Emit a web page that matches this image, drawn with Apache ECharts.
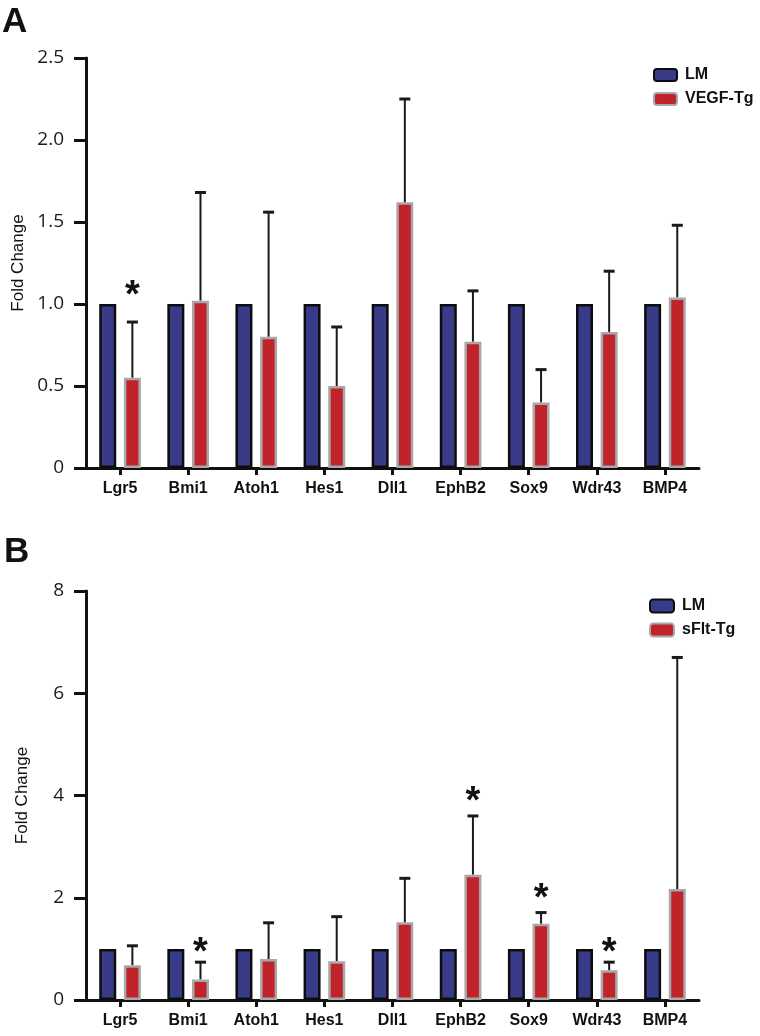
<!DOCTYPE html>
<html>
<head>
<meta charset="utf-8">
<script src="https://cdn.jsdelivr.net/npm/echarts@6/dist/echarts.min.js"></script>
<style>
html,body{margin:0;padding:0;background:#fff;}
#chart{width:760px;height:1036px;}
</style>
</head>
<body>
<div id="chart"></div>
<script>
// ---- data ----
const categories = ['Lgr5','Bmi1','Atoh1','Hes1','Dll1','EphB2','Sox9','Wdr43','BMP4'];

const lmA   = [1,1,1,1,1,1,1,1,1];
const vegfA = [0.55,1.02,0.80,0.50,1.62,0.77,0.40,0.83,1.04];
const vegfErrTopA = [0.89,1.68,1.56,0.86,2.25,1.08,0.60,1.20,1.48];
const starsA = [[0,1.10]];
const yTicksA = {min:0,max:2.5,interval:0.5};

const lmB   = [1,1,1,1,1,1,1,1,1];
const sfltB = [0.68,0.40,0.80,0.76,1.52,2.45,1.49,0.58,2.17];
const sfltErrTopB = [1.06,0.74,1.51,1.63,2.38,3.60,1.71,0.74,6.70];
const starsB = [[1,1.08],[5,4.04],[6,2.15],[7,1.08]];
const yTicksB = {min:0,max:8,interval:2};

// ---- styling ----
const BLUE = '#373b88', RED = '#c1232b';
const BAR_W = 17, GAP_PCT = 45;
const redOffset = (BAR_W + BAR_W*GAP_PCT/100)/2;

function errRender(params, api){
  const c = api.value(0);
  const base = api.coord([c, api.value(1)]);
  const top = api.coord([c, api.value(2)]);
  const x = base[0] + redOffset;
  return {type:'group', children:[
    {type:'line', shape:{x1:x,y1:base[1],x2:x,y2:top[1]}, style:{stroke:'#1a1a1a',lineWidth:2}},
    {type:'line', shape:{x1:x-5.5,y1:top[1],x2:x+5.5,y2:top[1]}, style:{stroke:'#1a1a1a',lineWidth:3}}
  ]};
}
function starRender(params, api){
  const p = api.coord([api.value(0), api.value(1)]);
  return {type:'text', x:p[0]+redOffset, y:p[1]+9,
    style:{text:'*', fontSize:38, fontWeight:'bold', fontFamily:'Liberation Sans', fill:'#111', align:'center', verticalAlign:'middle'}};
}

function yAxis(grid, t){
  return {type:'value', gridIndex:grid, min:t.min, max:t.max, interval:t.interval,
    name:'Fold Change', nameLocation:'middle', nameGap:55,
    nameTextStyle:{fontSize:17, fontFamily:'Liberation Sans', color:'#111'},
    axisLine:{show:true, lineStyle:{color:'#111', width:3}},
    axisTick:{show:true, length:12, lineStyle:{color:'#111', width:3}},
    axisLabel:{margin:22, fontSize:19, fontFamily:'Open Sans', color:'#1a1a1a',
      formatter: v => v===0 ? '0' : (t.interval<1 ? v.toFixed(1) : String(v))},
    splitLine:{show:false}};
}
function xAxis(grid){
  return {type:'category', gridIndex:grid, data:categories,
    axisLine:{show:true, lineStyle:{color:'#111', width:3}},
    axisTick:{show:true, alignWithLabel:true, length:7, lineStyle:{color:'#111', width:3}},
    axisLabel:{margin:13, fontSize:16, fontWeight:'bold', fontFamily:'Liberation Sans', color:'#111', interval:0}};
}
function barSeries(name, data, idx, color, border){
  return {name, type:'bar', xAxisIndex:idx, yAxisIndex:idx, data,
    barWidth:BAR_W, barGap:GAP_PCT+'%',
    itemStyle:{color, borderColor:border, borderWidth:2.5}, animation:false};
}
function errData(vals, tops){ return vals.map((v,i)=>[i,v,tops[i]]); }

const legendText = {fontSize:16, fontWeight:'bold', fontFamily:'Liberation Sans', color:'#111', padding:[0,0,0,3]};
const chart = echarts.init(document.getElementById('chart'), null, {renderer:'canvas'});
chart.setOption({
  animation:false,
  backgroundColor:'#fff',
  graphic:[
    {type:'text', left:2, top:5, style:{text:'A', fontSize:35, fontWeight:'bold', fontFamily:'Liberation Sans', fill:'#111'}},
    {type:'text', left:4, top:535, style:{text:'B', fontSize:35, fontWeight:'bold', fontFamily:'Liberation Sans', fill:'#111'}}
  ],
  legend:[
    {data:['LM','VEGF-Tg'], orient:'vertical', left:653, top:67, padding:0, itemWidth:23, itemHeight:12, itemGap:8,
      textStyle:legendText, selectedMode:false},
    {data:['LM','sFlt-Tg'], orient:'vertical', left:649, top:598, padding:0, itemWidth:24, itemHeight:13, itemGap:8,
      textStyle:legendText, selectedMode:false}
  ],
  grid:[
    {left:86, top:58, width:613, height:410},
    {left:86, top:591, width:613, height:409}
  ],
  xAxis:[xAxis(0), xAxis(1)],
  yAxis:[yAxis(0, yTicksA), yAxis(1, yTicksB)],
  series:[
    barSeries('LM', lmA, 0, BLUE, '#0d0d0d'),
    barSeries('VEGF-Tg', vegfA, 0, RED, '#a8a8a8'),
    {type:'custom', xAxisIndex:0, yAxisIndex:0, data:errData(vegfA, vegfErrTopA), renderItem:errRender, z:1},
    {type:'custom', xAxisIndex:0, yAxisIndex:0, data:starsA, renderItem:starRender, z:3},
    barSeries('LM', lmB, 1, BLUE, '#0d0d0d'),
    barSeries('sFlt-Tg', sfltB, 1, RED, '#a8a8a8'),
    {type:'custom', xAxisIndex:1, yAxisIndex:1, data:errData(sfltB, sfltErrTopB), renderItem:errRender, z:1},
    {type:'custom', xAxisIndex:1, yAxisIndex:1, data:starsB, renderItem:starRender, z:3}
  ]
});
</script>
</body>
</html>
